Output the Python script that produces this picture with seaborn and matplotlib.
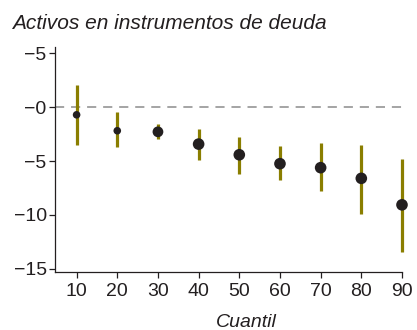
import matplotlib
matplotlib.use("Agg")
import matplotlib.pyplot as plt
import seaborn as sns
import pandas as pd

# Quantile regression estimates with confidence intervals
quantiles = [10, 20, 30, 40, 50, 60, 70, 80, 90]
estimate = [-0.71, -2.19, -2.29, -3.43, -4.42, -5.25, -5.62, -6.61, -9.07]
ci_upper = [2.06, -0.46, -1.55, -2.04, -2.75, -3.65, -3.37, -3.49, -4.79]
ci_lower = [-3.49, -3.74, -2.96, -4.91, -6.20, -6.73, -7.81, -9.94, -13.46]
dot_size = [30, 30, 60, 70, 70, 70, 70, 70, 70]

y_ticks = [5, 0, -5, -10, -15]
y_tick_labels = ["\u22125", "\u22120", "\u22125", "\u221210", "\u221215"]

df = pd.DataFrame({"Cuantil": quantiles, "est": estimate,
                   "hi": ci_upper, "lo": ci_lower, "size": dot_size})

sns.set_style("ticks")
plt.rcParams["font.family"] = ["Liberation Sans", "DejaVu Sans"]

fig = plt.figure(figsize=(4.17, 3.3), dpi=100)
ax = fig.add_axes([0.132, 0.176, 0.832, 0.682])

ax.axhline(0, color="#8c8c8c", lw=1.1, dashes=(6, 4.5), zorder=1)
bars = ax.vlines(df["Cuantil"], df["lo"], df["hi"], color="#8a7e00", lw=2.3, zorder=2)
bars.set_clip_on(False)
sns.scatterplot(data=df, x="Cuantil", y="est", size="size", sizes=(30, 70),
                color="#231f20", edgecolor="none", legend=False, ax=ax, zorder=3)
for coll in ax.collections:
    coll.set_clip_on(False)

ax.set_xlim(4.7, 90)
ax.set_ylim(-15.3, 5.6)
ax.set_xticks(quantiles)
ax.set_yticks(y_ticks)
ax.set_yticklabels(y_tick_labels)
ax.tick_params(axis="both", labelsize=14, length=4, width=0.9,
               color="#231f20", labelcolor="#231f20", pad=2)
ax.tick_params(axis="x", pad=4)
for side in ["top", "right"]:
    ax.spines[side].set_visible(False)
for side in ["left", "bottom"]:
    ax.spines[side].set_linewidth(0.9)
    ax.spines[side].set_color("#231f20")

ax.set_ylabel("")
ax.set_xlabel("Cuantil", fontsize=14, style="italic", color="#231f20")
ax.xaxis.set_label_coords(0.55, -0.185)
fig.text(0.029, 0.912, "Activos en instrumentos de deuda", fontsize=15,
         style="italic", color="#231f20", ha="left", va="baseline")

fig.savefig("out.png", dpi=100)
